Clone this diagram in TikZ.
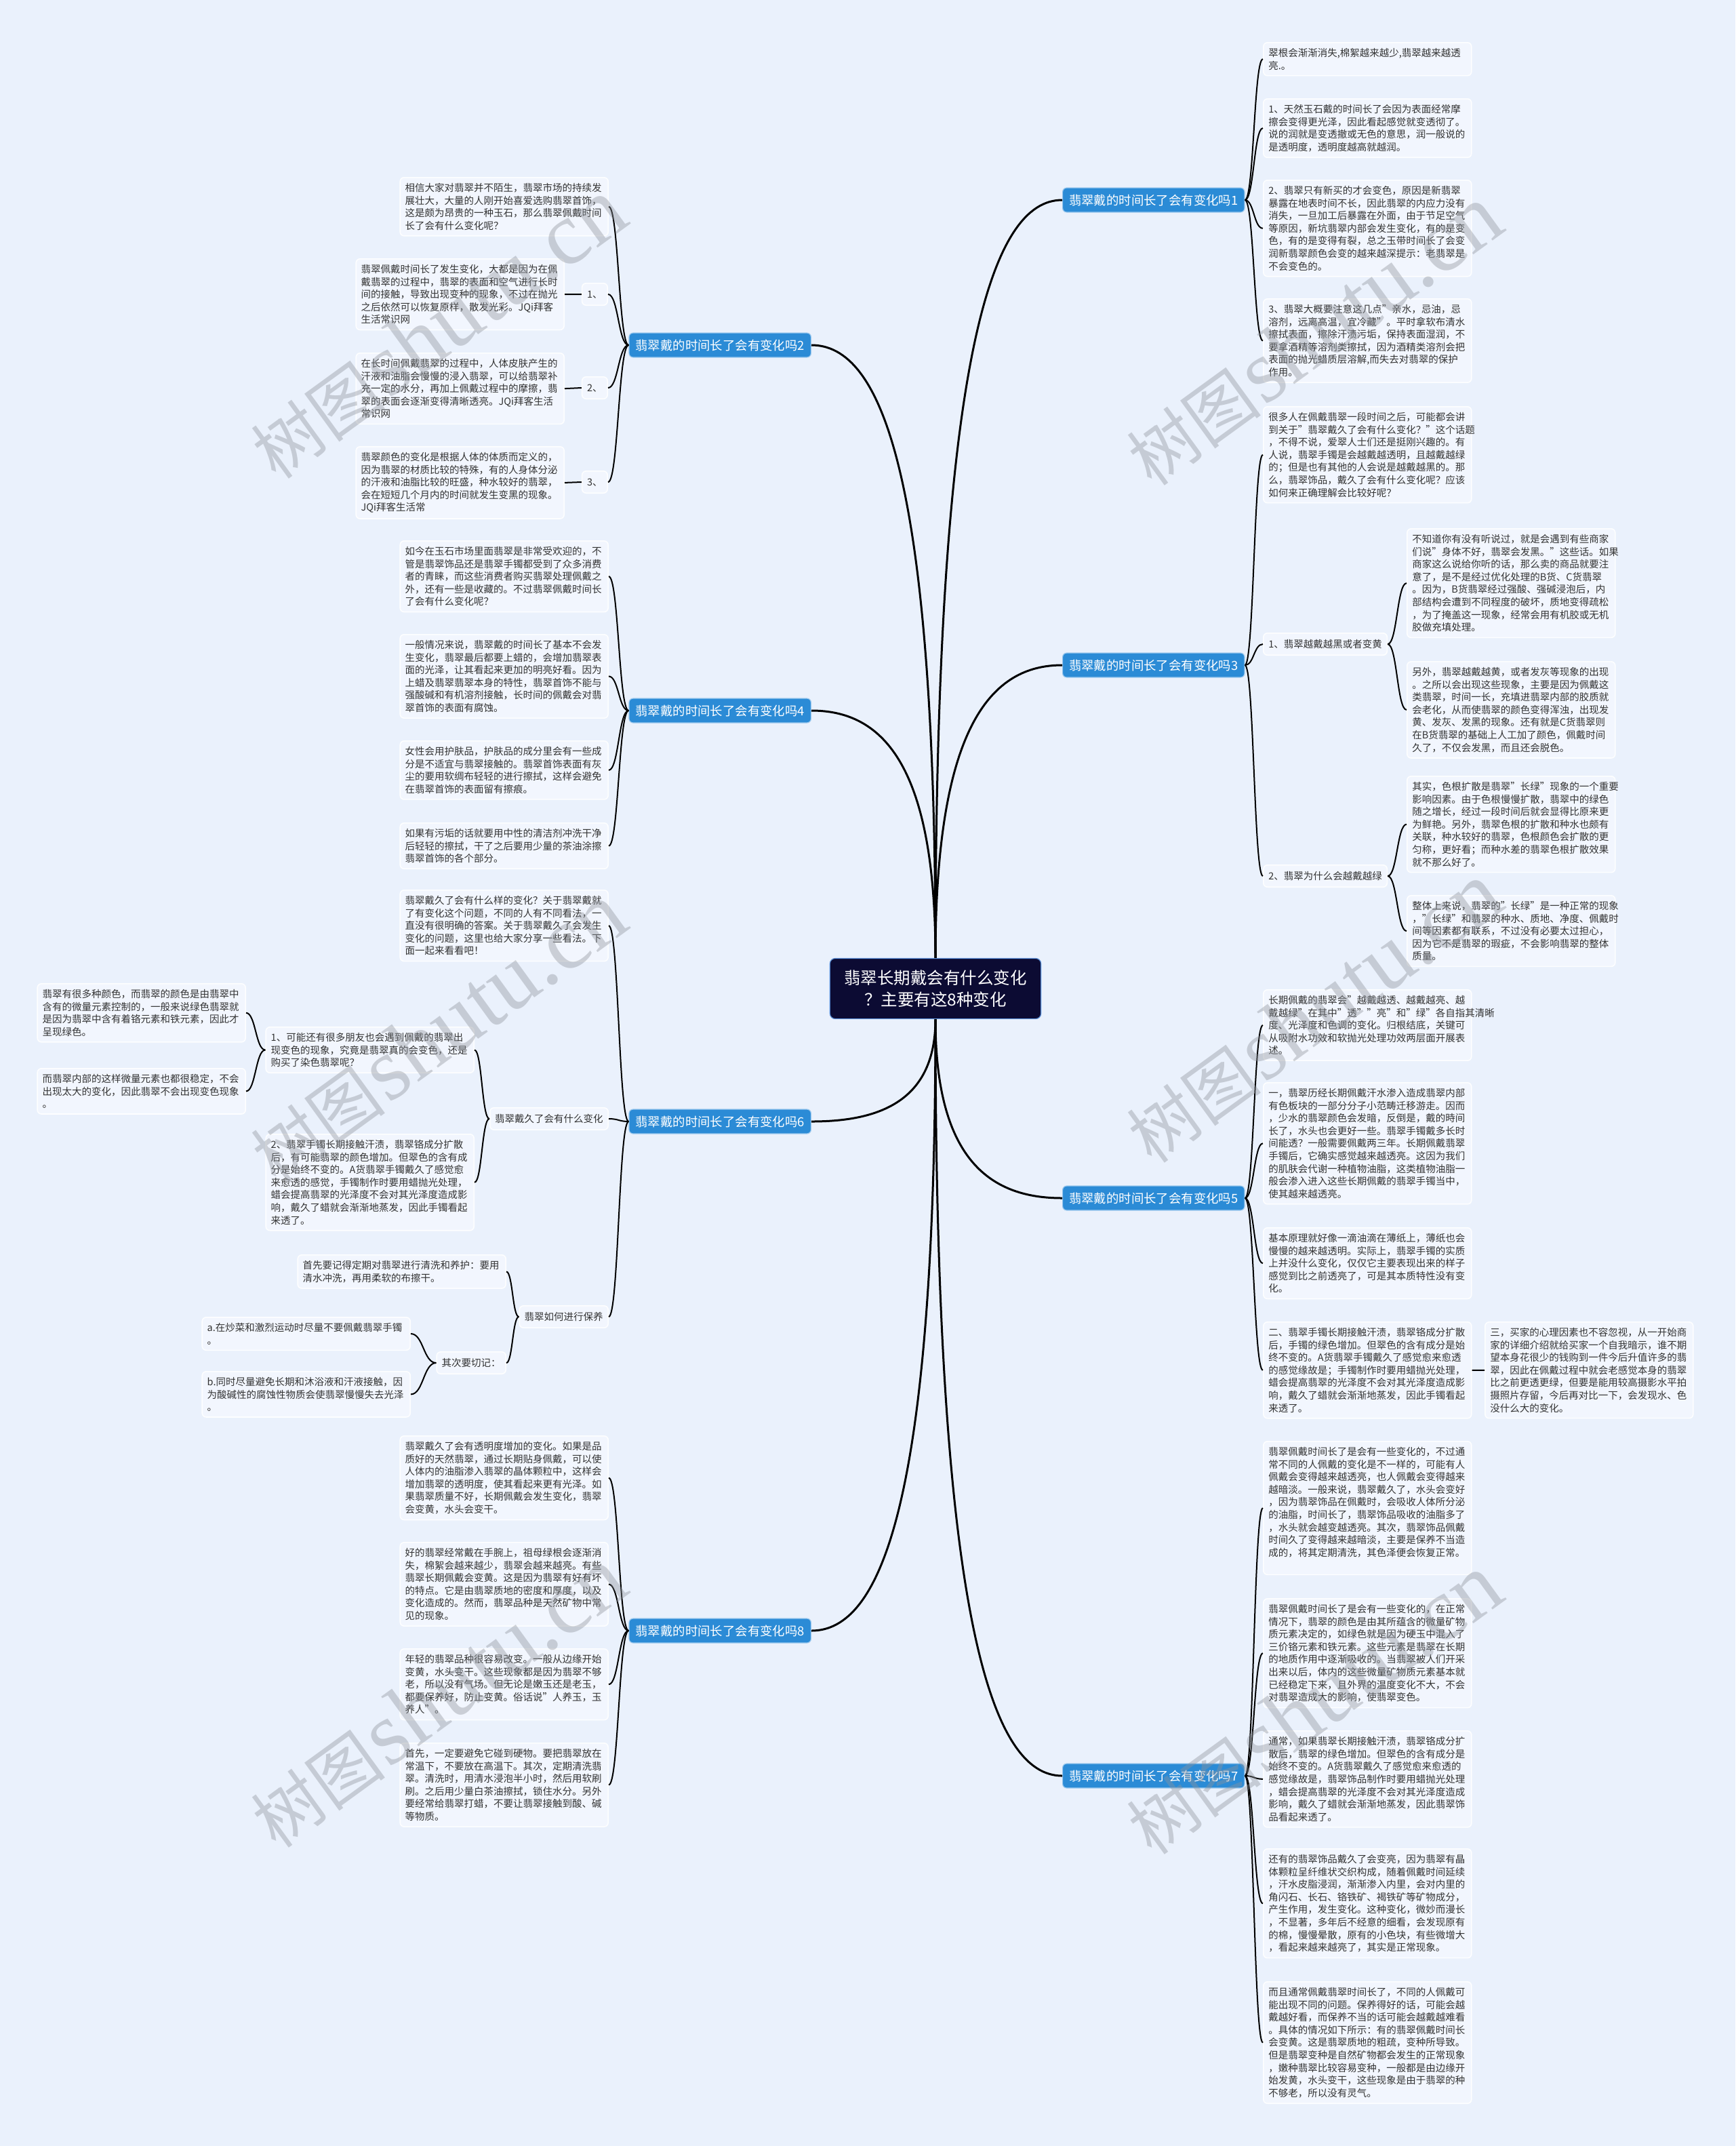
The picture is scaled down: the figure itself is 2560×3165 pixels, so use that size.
\documentclass[tikz,border=0pt]{standalone}
\usepackage{fontspec}
\setmainfont{Noto Sans CJK SC}
\newfontfamily\wmfont{Liberation Serif}
\usetikzlibrary{calc}

\definecolor{bgblue}{HTML}{EAF1FC}
\definecolor{leaffill}{HTML}{F2F6FE}
\definecolor{leafline}{HTML}{FDFEFF}
\definecolor{branchblue}{HTML}{2B8BD6}
\definecolor{branchline}{HTML}{9CC9EE}
\definecolor{rootnavy}{HTML}{0C0B33}
\definecolor{rootline}{HTML}{5B8FD6}
\definecolor{leaftext}{HTML}{333333}
\definecolor{wmgray}{HTML}{8F949C}

\tikzset{
  leaf/.style={draw=leafline, line width=0.8pt, fill=leaffill, rounded corners=3pt,
    text=leaftext, text width=146pt, align=left, inner xsep=3.75pt, inner ysep=4.2pt,
    font=\fontsize{7.25}{9.3}\selectfont},
  tag/.style={draw=leafline, line width=0.8pt, fill=leaffill, rounded corners=3pt,
    text=leaftext, inner xsep=3.75pt, inner ysep=4.2pt, text height=6.4pt, text depth=1.4pt,
    font=\fontsize{7.25}{9.3}\selectfont},
  branch/.style={draw=branchline, line width=0.6pt, fill=branchblue, text=white,
    rounded corners=3pt, inner xsep=4.75pt, inner ysep=4.4pt, text height=8.1pt,
    text depth=1.1pt, font=\fontsize{9.2}{11}\selectfont},
  root/.style={draw=rootline, line width=0.6pt, fill=rootnavy, text=white, rounded corners=4pt,
    align=center, inner xsep=10.5pt, inner ysep=8.6pt, font=\fontsize{12.25}{16}\selectfont},
  link/.style={line width=1pt, draw=black,
    to path={.. controls ($(\tikztostart)!.5!(\tikztotarget|-\tikztostart)$) and ($(\tikztotarget)!.5!(\tikztostart|-\tikztotarget)$) .. (\tikztotarget)}},
  trunk/.style={line width=1.5pt, draw=black,
    to path={.. controls ($(\tikztostart)!.8!(\tikztostart|-\tikztotarget)$) and ($(\tikztotarget)!.55!(\tikztostart|-\tikztotarget)$) .. (\tikztotarget)}},
  wmark/.style={text=wmgray, opacity=0.4, rotate=36, inner sep=0pt}
}

\begin{document}
\begin{tikzpicture}[x=0.5pt,y=-0.5pt]
    \useasboundingbox (0,0) rectangle (2560,3165);
    \fill[bgblue] (0,0) rectangle (2560,3165);

    \node[root] (root) at (1380,1458) {翡翠长期戴会有什么变化\\？主要有这8种变化};

    \node[branch,anchor=west] (b1) at (1567,295) {翡翠戴的时间长了会有变化吗1};
    \node[branch,anchor=west] (b3) at (1567,981) {翡翠戴的时间长了会有变化吗3};
    \node[branch,anchor=west] (b5) at (1567,1767) {翡翠戴的时间长了会有变化吗5};
    \node[branch,anchor=west] (b7) at (1567,2619) {翡翠戴的时间长了会有变化吗7};
    \node[branch,anchor=east] (b2) at (1197,509) {翡翠戴的时间长了会有变化吗2};
    \node[branch,anchor=east] (b4) at (1197,1048) {翡翠戴的时间长了会有变化吗4};
    \node[branch,anchor=east] (b6) at (1197,1654) {翡翠戴的时间长了会有变化吗6};
    \node[branch,anchor=east] (b8) at (1197,2405) {翡翠戴的时间长了会有变化吗8};

    \node[leaf,anchor=north west] (l1a) at (1863,62) {翠根会渐渐消失,棉絮越来越少,翡翠越来越透\\亮.。};
    \node[leaf,anchor=north west] (l1b) at (1863,145) {1、天然玉石戴的时间长了会因为表面经常摩\\擦会变得更光泽，因此看起感觉就变透彻了。\\说的润就是变透撤或无色的意思，润一般说的\\是透明度，透明度越高就越润。};
    \node[leaf,anchor=north west] (l1c) at (1863,265) {2、翡翠只有新买的才会变色，原因是新翡翠\\暴露在地表时间不长，因此翡翠的内应力没有\\消失，一旦加工后暴露在外面，由于节足空气\\等原因，新坑翡翠内部会发生变化，有的是变\\色，有的是变得有裂，总之玉带时间长了会变\\润新翡翠颜色会变的越来越深提示：老翡翠是\\不会变色的。};
    \node[leaf,anchor=north west] (l1d) at (1863,440) {3、翡翠大概要注意这几点"亲水，忌油，忌\\溶剂，远离高温，宜冷藏"。平时拿软布清水\\擦拭表面，擦除汗渍污垢，保持表面湿润，不\\要拿酒精等溶剂类擦拭，因为酒精类溶剂会把\\表面的抛光蜡质层溶解,而失去对翡翠的保护\\作用。};

    \node[leaf,anchor=north west] (l3i) at (1863,599) {很多人在佩戴翡翠一段时间之后，可能都会讲\\到关于"翡翠戴久了会有什么变化？"这个话题\\，不得不说，爱翠人士们还是挺刚兴趣的。有\\人说，翡翠手镯是会越戴越透明，且越戴越绿\\的；但是也有其他的人会说是越戴越黑的。那\\么，翡翠饰品，戴久了会有什么变化呢？应该\\如何来正确理解会比较好呢？};
    \node[tag,anchor=west] (s31) at (1863,950) {1、翡翠越戴越黑或者变黄};
    \node[leaf,anchor=north west] (l3a) at (2075,779) {不知道你有没有听说过，就是会遇到有些商家\\们说"身体不好，翡翠会发黑。"这些话。如果\\商家这么说给你听的话，那么卖的商品就要注\\意了，是不是经过优化处理的B货、C货翡翠\\。因为，B货翡翠经过强酸、强碱浸泡后，内\\部结构会遭到不同程度的破坏，质地变得疏松\\，为了掩盖这一现象，经常会用有机胶或无机\\胶做充填处理。};
    \node[leaf,anchor=north west] (l3b) at (2075,975) {另外，翡翠越戴越黄，或者发灰等现象的出现\\。之所以会出现这些现象，主要是因为佩戴这\\类翡翠，时间一长，充填进翡翠内部的胶质就\\会老化，从而使翡翠的颜色变得浑浊，出现发\\黄、发灰、发黑的现象。还有就是C货翡翠则\\在B货翡翠的基础上人工加了颜色，佩戴时间\\久了，不仅会发黑，而且还会脱色。};
    \node[tag,anchor=west] (s32) at (1863,1292) {2、翡翠为什么会越戴越绿};
    \node[leaf,anchor=north west] (l3c) at (2075,1144) {其实，色根扩散是翡翠"长绿"现象的一个重要\\影响因素。由于色根慢慢扩散，翡翠中的绿色\\随之增长，经过一段时间后就会显得比原来更\\为鲜艳。另外，翡翠色根的扩散和种水也颇有\\关联，种水较好的翡翠，色根颜色会扩散的更\\匀称，更好看；而种水差的翡翠色根扩散效果\\就不那么好了。};
    \node[leaf,anchor=north west] (l3d) at (2075,1320) {整体上来说，翡翠的"长绿"是一种正常的现象\\，"长绿"和翡翠的种水、质地、净度、佩戴时\\间等因素都有联系，不过没有必要太过担心，\\因为它不是翡翠的瑕疵，不会影响翡翠的整体\\质量。};

    \node[leaf,anchor=north west] (l5a) at (1863,1459) {长期佩戴的翡翠会"越戴越透、越戴越亮、越\\戴越绿"在其中"透""亮"和"绿"各自指其清晰\\度、光泽度和色调的变化。归根结底，关键可\\从吸附水功效和软抛光处理功效两层面开展表\\述。};
    \node[leaf,anchor=north west] (l5b) at (1863,1596) {一，翡翠历经长期佩戴汗水渗入造成翡翠内部\\有色板块的一部分分子小范畴迁移游走。因而\\，少水的翡翠颜色会发暗，反倒是，戴的時间\\长了，水头也会更好一些。翡翠手镯戴多长时\\间能透？一般需要佩戴两三年。长期佩戴翡翠\\手镯后，它确实感觉越来越透亮。这因为我们\\的肌肤会代谢一种植物油脂，这类植物油脂一\\般会渗入进入这些长期佩戴的翡翠手镯当中，\\使其越来越透亮。};
    \node[leaf,anchor=north west] (l5c) at (1863,1810) {基本原理就好像一滴油滴在薄纸上，薄纸也会\\慢慢的越来越透明。实际上，翡翠手镯的实质\\上并没什么变化，仅仅它主要表现出来的样子\\感觉到比之前透亮了，可是其本质特性没有变\\化。};
    \node[leaf,anchor=north west] (l5d) at (1863,1949) {二、翡翠手镯长期接触汗渍，翡翠铬成分扩散\\后，手镯的绿色增加。但翠色的含有成分是始\\终不变的。A货翡翠手镯戴久了感觉愈来愈透\\的感觉缘故是；手镯制作时要用蜡抛光处理，\\蜡会提高翡翠的光泽度不会对其光泽度造成影\\响，戴久了蜡就会渐渐地蒸发，因此手镯看起\\来透了。};
    \node[leaf,anchor=north west] (l5e) at (2190,1949) {三，买家的心理因素也不容忽视，从一开始商\\家的详细介绍就给买家一个自我暗示，谁不期\\望本身花很少的钱购到一件今后升值许多的翡\\翠，因此在佩戴过程中就会老感觉本身的翡翠\\比之前更透更绿，但要是能用较高摄影水平拍\\摄照片存留，今后再对比一下，会发现水、色\\没什么大的变化。};

    \node[leaf,anchor=north west] (l7a) at (1863,2125) {翡翠佩戴时间长了是会有一些变化的，不过通\\常不同的人佩戴的变化是不一样的，可能有人\\佩戴会变得越来越透亮，也人佩戴会变得越来\\越暗淡。一般来说，翡翠戴久了，水头会变好\\，因为翡翠饰品在佩戴时，会吸收人体所分泌\\的油脂，时间长了，翡翠饰品吸收的油脂多了\\，水头就会越变越透亮。其次，翡翠饰品佩戴\\时间久了变得越来越暗淡，主要是保养不当造\\成的，将其定期清洗，其色泽便会恢复正常。\\\mbox{}};
    \node[leaf,anchor=north west] (l7b) at (1863,2357) {翡翠佩戴时间长了是会有一些变化的，在正常\\情况下，翡翠的颜色是由其所蕴含的微量矿物\\质元素决定的，如绿色就是因为硬玉中混入了\\三价铬元素和铁元素。这些元素是翡翠在长期\\的地质作用中逐渐吸收的。当翡翠被人们开采\\出来以后，体内的这些微量矿物质元素基本就\\已经稳定下来，且外界的温度变化不大，不会\\对翡翠造成大的影响，使翡翠变色。};
    \node[leaf,anchor=north west] (l7c) at (1863,2552) {通常，如果翡翠长期接触汗渍，翡翠铬成分扩\\散后，翡翠的绿色增加。但翠色的含有成分是\\始终不变的。A货翡翠戴久了感觉愈来愈透的\\感觉缘故是，翡翠饰品制作时要用蜡抛光处理\\，蜡会提高翡翠的光泽度不会对其光泽度造成\\影响，戴久了蜡就会渐渐地蒸发，因此翡翠饰\\品看起来透了。};
    \node[leaf,anchor=north west] (l7d) at (1863,2726) {还有的翡翠饰品戴久了会变亮，因为翡翠有晶\\体颗粒呈纤维状交织构成，随着佩戴时间延续\\，汗水皮脂浸润，渐渐渗入内里，会对内里的\\角闪石、长石、铬铁矿、褐铁矿等矿物成分，\\产生作用，发生变化。这种变化，微妙而漫长\\，不显著，多年后不经意的细看，会发现原有\\的棉，慢慢晕散，原有的小色块，有些微增大\\，看起来越来越亮了，其实是正常现象。};
    \node[leaf,anchor=north west] (l7e) at (1863,2922) {而且通常佩戴翡翠时间长了，不同的人佩戴可\\能出现不同的问题。保养得好的话，可能会越\\戴越好看，而保养不当的话可能会越戴越难看\\。具体的情况如下所示：有的翡翠佩戴时间长\\会变黄。这是翡翠质地的粗疏，变种所导致。\\但是翡翠变种是自然矿物都会发生的正常现象\\，嫩种翡翠比较容易变种，一般都是由边缘开\\始发黄，水头变干，这些现象是由于翡翠的种\\不够老，所以没有灵气。};

    \node[leaf,anchor=north east] (l2i) at (898,261) {相信大家对翡翠并不陌生，翡翠市场的持续发\\展壮大，大量的人刚开始喜爱选购翡翠首饰，\\这是颇为昂贵的一种玉石，那么翡翠佩戴时间\\长了会有什么变化呢？};
    \node[tag,anchor=east] (t21) at (897,434) {1、};
    \node[tag,anchor=east] (t22) at (897,572) {2、};
    \node[tag,anchor=east] (t23) at (897,711) {3、};
    \node[leaf,anchor=north east] (l2a) at (833,381) {翡翠佩戴时间长了发生变化，大都是因为在佩\\戴翡翠的过程中，翡翠的表面和空气进行长时\\间的接触，导致出现变种的现象，不过在抛光\\之后依然可以恢复原样，散发光彩。JQi拜客\\生活常识网};
    \node[leaf,anchor=north east] (l2b) at (833,520) {在长时间佩戴翡翠的过程中，人体皮肤产生的\\汗液和油脂会慢慢的浸入翡翠，可以给翡翠补\\充一定的水分，再加上佩戴过程中的摩擦，翡\\翠的表面会逐渐变得清晰透亮。JQi拜客生活\\常识网};
    \node[leaf,anchor=north east] (l2c) at (833,658) {翡翠颜色的变化是根据人体的体质而定义的，\\因为翡翠的材质比较的特殊，有的人身体分泌\\的汗液和油脂比较的旺盛，种水较好的翡翠，\\会在短短几个月内的时间就发生变黑的现象。\\JQi拜客生活常};

    \node[leaf,anchor=north east] (l4a) at (898,797) {如今在玉石市场里面翡翠是非常受欢迎的，不\\管是翡翠饰品还是翡翠手镯都受到了众多消费\\者的青睐，而这些消费者购买翡翠处理佩戴之\\外，还有一些是收藏的。不过翡翠佩戴时间长\\了会有什么变化呢？};
    \node[leaf,anchor=north east] (l4b) at (898,935) {一般情况来说，翡翠戴的时间长了基本不会发\\生变化，翡翠最后都要上蜡的，会增加翡翠表\\面的光泽，让其看起来更加的明亮好看。因为\\上蜡及翡翠翡翠本身的特性，翡翠首饰不能与\\强酸碱和有机溶剂接触，长时间的佩戴会对翡\\翠首饰的表面有腐蚀。};
    \node[leaf,anchor=north east] (l4c) at (898,1092) {女性会用护肤品，护肤品的成分里会有一些成\\分是不适宜与翡翠接触的。翡翠首饰表面有灰\\尘的要用软绸布轻轻的进行擦拭，这样会避免\\在翡翠首饰的表面留有擦痕。};
    \node[leaf,anchor=north east] (l4d) at (898,1213) {如果有污垢的话就要用中性的清洁剂冲洗干净\\后轻轻的擦拭，干了之后要用少量的茶油涂擦\\翡翠首饰的各个部分。};

    \node[leaf,anchor=north east] (l6i) at (898,1312) {翡翠戴久了会有什么样的变化？关于翡翠戴就\\了有变化这个问题，不同的人有不同看法，一\\直没有很明确的答案。关于翡翠戴久了会发生\\变化的问题，这里也给大家分享一些看法。下\\面一起来看看吧！};
    \node[tag,anchor=east] (s61) at (898,1650) {翡翠戴久了会有什么变化};
    \node[leaf,anchor=north east] (l6a) at (700,1514) {1、可能还有很多朋友也会遇到佩戴的翡翠出\\现变色的现象，究竟是翡翠真的会变色，还是\\购买了染色翡翠呢？};
    \node[leaf,anchor=north east] (l6b) at (700,1672) {2、翡翠手镯长期接触汗渍，翡翠铬成分扩散\\后，有可能翡翠的颜色增加。但翠色的含有成\\分是始终不变的。A货翡翠手镯戴久了感觉愈\\来愈透的感觉，手镯制作时要用蜡抛光处理，\\蜡会提高翡翠的光泽度不会对其光泽度造成影\\响，戴久了蜡就会渐渐地蒸发，因此手镯看起\\来透了。};
    \node[leaf,anchor=north east] (l6c) at (363,1450) {翡翠有很多种颜色，而翡翠的颜色是由翡翠中\\含有的微量元素控制的，一般来说绿色翡翠就\\是因为翡翠中含有着铬元素和铁元素，因此才\\呈现绿色。};
    \node[leaf,anchor=north east] (l6d) at (363,1575) {而翡翠内部的这样微量元素也都很稳定，不会\\出现太大的变化，因此翡翠不会出现变色现象\\。};
    \node[tag,anchor=east] (s62) at (898,1942) {翡翠如何进行保养};
    \node[leaf,anchor=north east] (l6e) at (747,1850) {首先要记得定期对翡翠进行清洗和养护：要用\\清水冲洗，再用柔软的布擦干。};
    \node[tag,anchor=east] (s63) at (747,2010) {其次要切记：};
    \node[leaf,anchor=north east] (l6f) at (606,1942) {a.在炒菜和激烈运动时尽量不要佩戴翡翠手镯\\。};
    \node[leaf,anchor=north east] (l6g) at (606,2022) {b.同时尽量避免长期和沐浴液和汗液接触，因\\为酸碱性的腐蚀性物质会使翡翠慢慢失去光泽\\。};

    \node[leaf,anchor=north east] (l8a) at (898,2117) {翡翠戴久了会有透明度增加的变化。如果是品\\质好的天然翡翠，通过长期贴身佩戴，可以使\\人体内的油脂渗入翡翠的晶体颗粒中，这样会\\增加翡翠的透明度，使其看起来更有光泽。如\\果翡翠质量不好，长期佩戴会发生变化，翡翠\\会变黄，水头会变干。};
    \node[leaf,anchor=north east] (l8b) at (898,2274) {好的翡翠经常戴在手腕上，祖母绿根会逐渐消\\失，棉絮会越来越少，翡翠会越来越亮。有些\\翡翠长期佩戴会变黄。这是因为翡翠有好有坏\\的特点。它是由翡翠质地的密度和厚度，以及\\变化造成的。然而，翡翠品种是天然矿物中常\\见的现象。};
    \node[leaf,anchor=north east] (l8c) at (898,2431) {年轻的翡翠品种很容易改变。一般从边缘开始\\变黄，水头变干。这些现象都是因为翡翠不够\\老，所以没有气场。但无论是嫩玉还是老玉，\\都要保养好，防止变黄。俗话说"人养玉，玉\\养人"。};
    \node[leaf,anchor=north east] (l8d) at (898,2570) {首先，一定要避免它碰到硬物。要把翡翠放在\\常温下，不要放在高温下。其次，定期清洗翡\\翠。清洗时，用清水浸泡半小时，然后用软刷\\刷。之后用少量白茶油擦拭，锁住水分。另外\\要经常给翡翠打蜡，不要让翡翠接触到酸、碱\\等物质。};

    \draw[trunk] (root.north) to (b1.west);
    \draw[trunk] (root.north) to (b3.west);
    \draw[trunk] (root.north) to (b2.east);
    \draw[trunk] (root.north) to (b4.east);
    \draw[trunk] (root.south) to (b5.west);
    \draw[trunk] (root.south) to (b7.west);
    \draw[trunk] (root.south) to (b6.east);
    \draw[trunk] (root.south) to (b8.east);

    \foreach \leafname in {l1a,l1b,l1c,l1d}
        \draw[link] (b1.east) to (\leafname.west);
    \foreach \leafname in {l3i,s31,s32}
        \draw[link] (b3.east) to (\leafname.west);
    \draw[link] (s31.east) to (l3a.west);
    \draw[link] (s31.east) to (l3b.west);
    \draw[link] (s32.east) to (l3c.west);
    \draw[link] (s32.east) to (l3d.west);
    \foreach \leafname in {l5a,l5b,l5c,l5d}
        \draw[link] (b5.east) to (\leafname.west);
    \draw[link] (l5d.east) -- (l5e.west);
    \foreach \leafname in {l7a,l7b,l7c,l7d,l7e}
        \draw[link] (b7.east) to (\leafname.west);

    \foreach \leafname in {l2i,t21,t22,t23}
        \draw[link] (b2.west) to (\leafname.east);
    \draw[link] (l2a.east) -- (t21.west);
    \draw[link] (l2b.east) -- (t22.west);
    \draw[link] (l2c.east) -- (t23.west);
    \foreach \leafname in {l4a,l4b,l4c,l4d}
        \draw[link] (b4.west) to (\leafname.east);
    \foreach \leafname in {l6i,s61,s62}
        \draw[link] (b6.west) to (\leafname.east);
    \draw[link] (s61.west) to (l6a.east);
    \draw[link] (s61.west) to (l6b.east);
    \draw[link] (l6a.west) to (l6c.east);
    \draw[link] (l6a.west) to (l6d.east);
    \draw[link] (s62.west) to (l6e.east);
    \draw[link] (s62.west) to (s63.east);
    \draw[link] (s63.west) to (l6f.east);
    \draw[link] (s63.west) to (l6g.east);
    \foreach \leafname in {l8a,l8b,l8c,l8d}
        \draw[link] (b8.west) to (\leafname.east);

    \foreach \wx/\wy [count=\wi] in {646/485,646/1524,646/2504,1938/495,1938/1494,1938/2514}
        \node[wmark] (wm\wi) at (\wx,\wy) {{\fontsize{50}{50}\selectfont 树图} {\wmfont\fontsize{66}{66}\selectfont shutu.cn}};
\end{tikzpicture}
\end{document}
